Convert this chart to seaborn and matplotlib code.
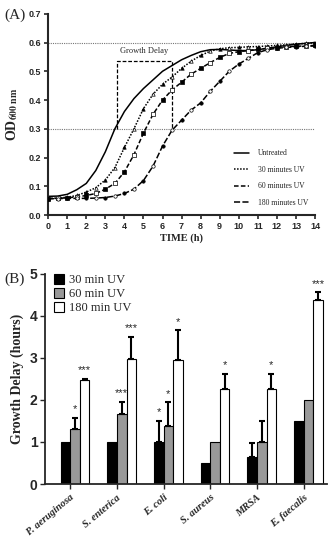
import numpy as np
import pandas as pd
import seaborn as sns
import matplotlib.pyplot as plt

# Panel A: growth curves (OD600 vs time)
time_h = [0, 0.5, 1, 1.5, 2, 2.5, 3, 3.5, 4, 4.5, 5, 5.5, 6, 6.5, 7,
          7.5, 8, 8.5, 9, 9.5, 10, 10.5, 11, 11.5, 12, 12.5, 13, 13.5, 14]
od_untreated = [0.065, 0.066, 0.072, 0.088, 0.11, 0.155, 0.22, 0.30, 0.36, 0.405,
                0.44, 0.47, 0.50, 0.52, 0.54, 0.555, 0.568, 0.575, 0.576, 0.574,
                0.572, 0.572, 0.575, 0.58, 0.585, 0.59, 0.594, 0.597, 0.60]
od_30min = [0.058, 0.059, 0.062, 0.068, 0.08, 0.095, 0.122, 0.165, 0.235, 0.30,
            0.37, 0.42, 0.455, 0.48, 0.51, 0.535, 0.555, 0.57, 0.578, 0.582,
            0.583, 0.585, 0.586, 0.588, 0.59, 0.592, 0.595, 0.597, 0.60]
od_60min = [0.057, 0.058, 0.06, 0.063, 0.068, 0.075, 0.09, 0.11, 0.15, 0.21,
            0.285, 0.35, 0.40, 0.435, 0.462, 0.49, 0.51, 0.53, 0.548, 0.562,
            0.568, 0.572, 0.576, 0.58, 0.582, 0.585, 0.587, 0.588, 0.59]
od_180min = [0.057, 0.057, 0.058, 0.058, 0.058, 0.059, 0.061, 0.066, 0.075, 0.09,
             0.12, 0.17, 0.24, 0.295, 0.33, 0.365, 0.39, 0.43, 0.465, 0.50,
             0.525, 0.545, 0.565, 0.575, 0.58, 0.583, 0.585, 0.587, 0.588]
curve_labels = ['Untreated', '30 minutes UV', '60 minutes UV', '180 minutes UV']

# Panel B: growth delay per species
species = ['P. aeruginosa', 'S. enterica', 'E. coli', 'S. aureus', 'MRSA', 'E. faecalis']
uv_groups = ['30 min UV', '60 min UV', '180 min UV']
delay_30 = [1.0, 1.0, 1.0, 0.5, 0.65, 1.5]
delay_60 = [1.31, 1.67, 1.38, 1.0, 1.0, 2.0]
delay_180 = [2.48, 2.98, 2.95, 2.25, 2.25, 4.38]
err_30 = [0, 0, 0.51, 0, 0.32, 0]
err_60 = [0.27, 0.29, 0.56, 0, 0.51, 0]
err_180 = [0.03, 0.53, 0.71, 0.37, 0.37, 0.19]
stars_30 = ['', '', '*', '', '', '']
stars_60 = ['*', '***', '*', '', '', '']
stars_180 = ['***', '***', '*', '*', '*', '***']

sns.set_style('ticks')
serif = 'Liberation Serif'
sans = 'Liberation Sans'
plt.rcParams['font.family'] = [sans, 'DejaVu Sans']
plt.rcParams['mathtext.fontset'] = 'stix'

fig = plt.figure(figsize=(3.32, 5.5), dpi=100)
ax1 = fig.add_axes([0.145, 0.609, 0.804, 0.366])
ax2 = fig.add_axes([0.136, 0.12, 0.849, 0.382])

# ---- Panel A ----
ax1.axhline(0.6, color='#777777', lw=0.8, ls=(0, (1, 1)), zorder=0)
ax1.axhline(0.3, color='#777777', lw=0.8, ls=(0, (1, 1)), zorder=0)

styles = ['-', (0, (1, 1)), (0, (3, 1.5)), (0, (4, 1.5))]
markers = [None, '^', 's', 'o']
series = [od_untreated, od_30min, od_60min, od_180min]
for vals, lab, ls, mk in zip(series, curve_labels, styles, markers):
    sns.lineplot(x=time_h, y=vals, ax=ax1, color='black', lw=1.1,
                 linestyle=ls, label=lab)
    if mk is not None:
        t = np.array(time_h)
        v = np.array(vals)
        sns.scatterplot(x=t[::2], y=v[::2], ax=ax1, marker=mk, s=6,
                        color='black', edgecolor='black', linewidth=0.5,
                        zorder=3)
        sns.scatterplot(x=t[1::2], y=v[1::2], ax=ax1, marker=mk, s=6,
                        color='white', edgecolor='black', linewidth=0.5,
                        zorder=3)

# growth delay bracket
ax1.plot([3.6, 3.6, 6.5, 6.5], [0.3, 0.534, 0.534, 0.3], color='black',
         lw=0.9, ls=(0, (3, 1.5)), zorder=2)
ax1.text(5.05, 0.555, 'Growth Delay', ha='center', va='bottom',
         family=serif, fontsize=6)

ax1.set_xlim(0, 14)
ax1.set_ylim(0, 0.7)
ax1.set_xticks(range(0, 15))
ax1.set_yticks(np.arange(0, 0.71, 0.1))
ax1.set_yticklabels([f'{v:.1f}' for v in np.arange(0, 0.71, 0.1)])
for lbl in ax1.get_xticklabels() + ax1.get_yticklabels():
    lbl.set_fontweight('bold')
    lbl.set_fontsize(6.5)
ax1.tick_params(width=1.2, length=3, pad=2)
for s in ['left', 'bottom']:
    ax1.spines[s].set_linewidth(1.5)
sns.despine(ax=ax1)
ax1.set_xlabel('TIME (h)', family=serif, fontweight='bold', fontsize=7.5, labelpad=2)
ax1.set_ylabel(r'OD$_{\mathbf{600\ nm}}$', family=serif, fontweight='bold',
               fontsize=10, labelpad=6)

handles, labels = ax1.get_legend_handles_labels()
ax1.legend(handles[:4], labels[:4], loc='upper left', bbox_to_anchor=(0.67, 0.36),
           frameon=False, prop={'family': serif, 'size': 5.5},
           handlelength=2.0, labelspacing=1.1, handletextpad=1.2)

# ---- Panel B ----
rows = []
for i, sp in enumerate(species):
    for grp, d, e, st in zip(uv_groups, [delay_30, delay_60, delay_180],
                             [err_30, err_60, err_180],
                             [stars_30, stars_60, stars_180]):
        rows.append({'species': sp, 'uv': grp, 'delay': d[i], 'err': e[i], 'star': st[i]})
df = pd.DataFrame(rows)

sns.barplot(data=df, x='species', y='delay', hue='uv', hue_order=uv_groups,
            order=species, palette=['black', '#999999', 'white'],
            edgecolor='black', linewidth=0.8, width=0.62, errorbar=None,
            saturation=1, ax=ax2)

for cont, grp in zip(ax2.containers, uv_groups):
    sub = df[df['uv'] == grp].set_index('species').loc[species]
    for bar, val, err, st in zip(cont, sub['delay'], sub['err'], sub['star']):
        xc = bar.get_x() + bar.get_width() / 2
        if err > 0:
            ax2.errorbar(xc, val, yerr=[[0], [err]], fmt='none', ecolor='black',
                         elinewidth=1.5, capsize=2.5, capthick=1.5, zorder=3)
        if st:
            ax2.text(xc, val + err + 0.08, st, ha='center', va='bottom',
                     fontsize=8, family=sans)

n = len(species)
ax2.set_xticks(np.arange(n) - 0.103)
ax2.set_xticklabels(species, rotation=40, ha='right', rotation_mode='anchor',
                    family=serif, style='italic', fontweight='bold', fontsize=7.5)
ax2.set_xlim(-0.64, n - 0.6)
ax2.set_ylim(0, 5)
ax2.set_yticks(range(0, 6))
for lbl in ax2.get_yticklabels():
    lbl.set_fontweight('bold')
    lbl.set_fontsize(10)
ax2.tick_params(width=1.0, length=3.5, pad=2)
ax2.tick_params(axis='x', pad=3)
for s in ['left', 'bottom']:
    ax2.spines[s].set_linewidth(1.3)
sns.despine(ax=ax2)
ax2.set_xlabel('')
ax2.set_ylabel('Growth Delay (hours)', family=serif, fontweight='bold',
               fontsize=10, labelpad=4)

h2, l2 = ax2.get_legend_handles_labels()
ax2.legend(h2, l2, loc='upper left', bbox_to_anchor=(0.0, 1.04), frameon=False,
           prop={'family': serif, 'size': 9}, handlelength=0.8, handleheight=0.8,
           handletextpad=0.4, labelspacing=0.15, borderaxespad=0.3)

fig.text(0.012, 0.972, '(A)', family=serif, fontsize=11, va='center')
fig.text(0.012, 0.493, '(B)', family=serif, fontsize=11, va='center')

fig.savefig('out.png', dpi=100)
